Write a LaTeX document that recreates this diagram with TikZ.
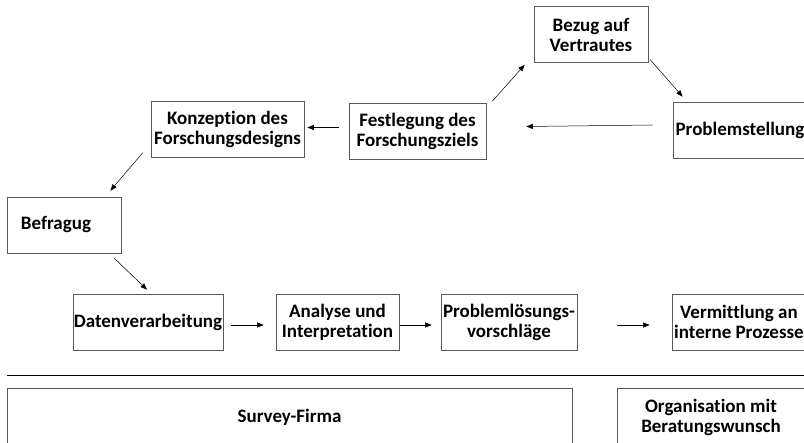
\documentclass[tikz,border=0pt]{standalone}
\usepackage{fontspec}
\setmainfont{Carlito}[Ligatures=NoCommon]
\usetikzlibrary{arrows.meta,positioning,calc}

\begin{document}
\begin{tikzpicture}[x=1pt,y=-1pt,
		every node/.style={draw=black!65, line width=0.7pt, align=center, inner sep=0pt,
			minimum height=56pt, font=\fontsize{19}{20}\selectfont\bfseries},
		flow/.style={-{Triangle[length=6.5pt,width=5pt]}, line width=0.5pt}]
	\clip (0,0) rectangle (804,443);
	% oberer Kreislauf
	\node[minimum width=114pt] (bezug) at (591,34.5) {Bezug auf\\Vertrautes};
	\node[minimum width=134pt] (problem) at (740,130) {Problemstellung};
	\node[minimum width=137pt] (ziel) at (417.5,131.5) {Festlegung des\\Forschungsziels};
	\node[minimum width=153pt] (konzept) at (227.5,129.5) {Konzeption des\\Forschungsdesigns};
	\node[minimum width=114pt] (befrag) at (64,225) {Befragug\hspace{16pt}};
	% Auswertung
	\node[minimum width=150pt] (daten) at (148,322) {Datenverarbeitung};
	\node[minimum width=123pt] (analyse) at (337.5,322) {Analyse und\\Interpretation};
	\node[minimum width=136pt] (loesung) at (509,322) {Probleml\"osungs-\\vorschl\"age};
	\node[minimum width=134pt] (vermittl) at (739,322) {Vermittlung an\\interne Prozesse};
	% Akteure
	\coordinate (trennL) at (7,375);
	\coordinate (trennR) at (804,375);
	\draw[line width=0.7pt] (trennL) -- (trennR);
	\node[minimum width=565pt, minimum height=58pt] (survey) at (289.5,417) {Survey-Firma};
	\node[minimum width=188pt, minimum height=58pt] (orga) at (711,417) {Organisation mit\\Beratungswunsch};

	\draw[flow] ([xshift=6pt,yshift=2pt]ziel.north east) -- ([xshift=-9pt,yshift=-2pt]bezug.south west);
	\draw[flow] ([xshift=2pt,yshift=3pt]bezug.south east) -- ([xshift=10pt,yshift=5pt]problem.north west);
	\draw[flow] ([xshift=-20pt,yshift=5pt]problem.west) -- ([xshift=40pt,yshift=5pt]ziel.east);
	\draw[flow] ([xshift=-10pt,yshift=4pt]ziel.west) -- ([xshift=3pt,yshift=2pt]konzept.east);
	\draw[flow] ([xshift=-8pt,yshift=5pt]konzept.south west) -- ([xshift=-11pt,yshift=6pt]befrag.north east);
	\draw[flow] ([xshift=-7pt,yshift=-5pt]befrag.south east) -- ([xshift=-1pt,yshift=4pt]daten.north);
	\draw[flow] ([xshift=8pt,yshift=-3pt]daten.east) -- ([xshift=-12pt,yshift=-3pt]analyse.west);
	\draw[flow] ([xshift=1pt,yshift=-3pt]analyse.east) -- ([xshift=-9pt,yshift=-3pt]loesung.west);
	\draw[flow] ([xshift=40pt,yshift=-3pt]loesung.east) -- ([xshift=-22pt,yshift=-3pt]vermittl.west);
\end{tikzpicture}
\end{document}
